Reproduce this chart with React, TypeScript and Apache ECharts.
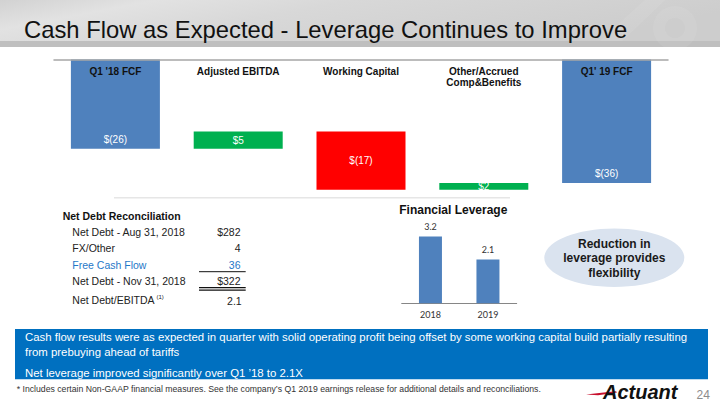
import React, { useEffect, useRef } from "react";
import * as echarts from "echarts";

const wfCategories = ["Q1 '18 FCF", "Adjusted EBITDA", "Working Capital", "Other/Accrued\nComp&Benefits", "Q1' 19 FCF"];
const wfValues = [-26, 5, -17, 2, -36];
const wfIsTotal = [true, false, false, false, true];

const levCategories = ["2018", "2019"];
const levValues = [3.2, 2.1];

const reconTitle = "Net Debt Reconciliation";
const reconLabels = ["Net Debt - Aug 31, 2018", "FX/Other", "Free Cash Flow", "Net Debt - Nov 31, 2018"];
const reconValues = ["$282", "4", "36", "$322"];
const ratioLabel = "Net Debt/EBITDA";
const ratioValue = "2.1";

const titleText = "Cash Flow as Expected - Leverage Continues to Improve";
const bannerLines = [
  "Cash flow results were as expected in quarter with solid operating profit being offset by some working capital build partially resulting",
  "from prebuying ahead of tariffs",
  "Net leverage improved significantly over Q1 \u201918 to 2.1X",
];
const footnote = "* Includes certain Non-GAAP financial measures. See the company\u2019s Q1 2019 earnings release for additional details and reconciliations.";
const calloutLines = ["Reduction in", "leverage provides", "flexibility"];

const FONT = "'Liberation Sans', Arial, sans-serif";

function fmtMoney(v: number) {
  return v < 0 ? `$(${-v})` : `$${v}`;
}

export default function App() {
  const ref = useRef<HTMLDivElement>(null);
  useEffect(() => {
    if (!ref.current) return;
    const chart = echarts.init(ref.current, undefined, { renderer: "svg" });

    const helper: number[] = [];
    const visible: any[] = [];
    let running = 0;
    wfValues.forEach((v, i) => {
      if (wfIsTotal[i]) {
        helper.push(0);
        visible.push({ value: v, itemStyle: { color: "#4F81BD" } });
        running = v;
      } else {
        const next = running + v;
        const hi = Math.max(running, next);
        const lo = Math.min(running, next);
        helper.push(hi);
        visible.push({ value: lo - hi, itemStyle: { color: v > 0 ? "#00B050" : "#FF0000" } });
        running = next;
      }
    });

    const reconRowsY = [231.7, 248.3, 264.5, 281];
    const graphics: any[] = [];
    // title band
    graphics.push({
      type: "rect",
      shape: { x: 0, y: 0, width: 720, height: 41 },
      style: {
        fill: {
          type: "linear", x: 0, y: 0, x2: 1, y2: 0.3,
          colorStops: [
            { offset: 0, color: "#d2d2d2" },
            { offset: 0.2, color: "#e2e2e2" },
            { offset: 0.45, color: "#d8d8d8" },
            { offset: 0.75, color: "#d2d2d2" },
            { offset: 1, color: "#cdcdcd" },
          ],
        },
      },
      silent: true,
    });
    graphics.push({ type: "rect", shape: { x: 0, y: 41, width: 720, height: 6 }, style: { fill: "#bfbfbf" }, silent: true });
    graphics.push({ type: "polygon", shape: { points: [[600, 41], [645, 0], [665, 0], [622, 41]] }, style: { fill: "rgba(255,255,255,0.08)" }, silent: true });
    graphics.push({ type: "ring", shape: { cx: 675, cy: 28, r: 22, r0: 10 }, style: { fill: "rgba(255,255,255,0.07)" }, silent: true });
    graphics.push({
      type: "text", x: 24, y: 29,
      style: { text: titleText, font: `23.8px ${FONT}`, fill: "#111", verticalAlign: "middle", textAlign: "left" },
    });

    // faint divider
    graphics.push({ type: "line", shape: { x1: 114, y1: 197.7, x2: 510, y2: 197.7 }, style: { stroke: "#e6e6e6", lineWidth: 1.5 } });

    // net debt table
    graphics.push({ type: "text", x: 62.7, y: 216, style: { text: reconTitle, font: `bold 10.5px ${FONT}`, fill: "#111", verticalAlign: "middle" } });
    reconLabels.forEach((l, i) => {
      const color = i === 2 ? "#1F78C8" : "#222";
      graphics.push({ type: "text", x: 72.3, y: reconRowsY[i], style: { text: l, font: `10.5px ${FONT}`, fill: color, verticalAlign: "middle" } });
      graphics.push({ type: "text", x: 240.5, y: reconRowsY[i], style: { text: reconValues[i], font: `10.5px ${FONT}`, fill: color, verticalAlign: "middle", textAlign: "right" } });
    });
    graphics.push({ type: "line", shape: { x1: 199, y1: 271.7, x2: 245.7, y2: 271.7 }, style: { stroke: "#111", lineWidth: 1 } });
    graphics.push({ type: "line", shape: { x1: 199, y1: 287.6, x2: 245.7, y2: 287.6 }, style: { stroke: "#111", lineWidth: 1.3 } });
    graphics.push({ type: "line", shape: { x1: 199, y1: 290.1, x2: 245.7, y2: 290.1 }, style: { stroke: "#111", lineWidth: 1.3 } });
    graphics.push({ type: "text", x: 72.3, y: 300, style: { text: ratioLabel, font: `10.5px ${FONT}`, fill: "#222", verticalAlign: "middle" } });
    graphics.push({ type: "text", x: 156.5, y: 296.5, style: { text: "(1)", font: `6px ${FONT}`, fill: "#222", verticalAlign: "middle" } });
    graphics.push({ type: "text", x: 241.7, y: 300.5, style: { text: ratioValue, font: `10.5px ${FONT}`, fill: "#222", verticalAlign: "middle", textAlign: "right" } });

    // leverage title
    graphics.push({ type: "text", x: 453.3, y: 209.5, style: { text: "Financial Leverage", font: `bold 12px ${FONT}`, fill: "#111", verticalAlign: "middle", textAlign: "center" } });

    // callout ellipse
    graphics.push({ type: "ellipse", shape: { cx: 614.3, cy: 257.7, rx: 70, ry: 29.2 }, style: { fill: "#DAE3EF" } });
    const calloutY = [244, 258.3, 272.7];
    calloutLines.forEach((t, i) => {
      graphics.push({ type: "text", x: 614.3, y: calloutY[i], style: { text: t, font: `bold 12px ${FONT}`, fill: "#1a1a1a", verticalAlign: "middle", textAlign: "center" } });
    });

    // banner
    graphics.push({ type: "rect", shape: { x: 15, y: 329, width: 693, height: 50.3 }, style: { fill: "#0070C0" } });
    const bannerY = [336.7, 351.7, 372.7];
    bannerLines.forEach((t, i) => {
      graphics.push({ type: "text", x: 25, y: bannerY[i], style: { text: t, font: `11.4px ${FONT}`, fill: "#ffffff", verticalAlign: "middle" } });
    });
    graphics.push({ type: "text", x: 16.7, y: 389.3, style: { text: footnote, font: `8.7px ${FONT}`, fill: "#333", verticalAlign: "middle" } });

    // logo
    graphics.push({ type: "polygon", shape: { points: [[586, 394.6], [606, 392.2], [616, 391.2], [617, 392.6], [598, 395.2]] }, style: { fill: "#C8102E" } });
    graphics.push({ type: "text", x: 603, y: 391.5, style: { text: "Actuant", font: `italic bold 20px ${FONT}`, fill: "#111", verticalAlign: "middle" } });
    graphics.push({ type: "text", x: 696.5, y: 395, style: { text: "24", font: `12px ${FONT}`, fill: "#8c8c8c", verticalAlign: "middle" } });

    chart.setOption({
      animation: false,
      textStyle: { fontFamily: FONT },
      grid: [
        { left: 54, top: 59.5, width: 614, height: 137.2 },
        { left: 401.7, top: 219.7, width: 115, height: 83.6 },
      ],
      xAxis: [
        {
          type: "category",
          gridIndex: 0,
          position: "top",
          z: 10,
          data: wfCategories,
          axisLine: { lineStyle: { color: "#A6A6A6", width: 1.5 } },
          axisTick: { inside: true, length: 3, lineStyle: { color: "#A6A6A6" } },
          axisLabel: {
            inside: true,
            margin: 6,
            verticalAlign: "top",
            fontSize: 10,
            fontWeight: "bold",
            color: "#111",
            lineHeight: 11,
            interval: 0,
          },
        },
        {
          type: "category",
          gridIndex: 1,
          data: levCategories,
          axisLine: { lineStyle: { color: "#868686", width: 1 } },
          axisTick: { length: 3, lineStyle: { color: "#868686" } },
          axisLabel: { margin: 7, fontSize: 9, color: "#333", fontFamily: "Lato, 'Open Sans', sans-serif" },
        },
      ],
      yAxis: [
        { type: "value", gridIndex: 0, min: -40, max: 0, show: false, splitLine: { show: false } },
        { type: "value", gridIndex: 1, min: 0, max: 4, show: false, splitLine: { show: false } },
      ],
      graphic: { elements: graphics },
      series: [
        {
          type: "bar",
          xAxisIndex: 0,
          yAxisIndex: 0,
          stack: "wf",
          barWidth: 89,
          silent: true,
          itemStyle: { color: "transparent" },
          data: helper,
        },
        {
          type: "bar",
          xAxisIndex: 0,
          yAxisIndex: 0,
          stack: "wf",
          barWidth: 89,
          data: visible.map((d, i) => ({
            ...d,
            label: {
              show: true,
              position: wfIsTotal[i] ? "insideBottom" : "inside",
              distance: 4,
              formatter: () => fmtMoney(wfValues[i]),
              color: "#ffffff",
              fontSize: 10,
              fontFamily: FONT,
            },
          })),
        },
        {
          type: "bar",
          xAxisIndex: 1,
          yAxisIndex: 1,
          barWidth: 23,
          itemStyle: { color: "#4F81BD" },
          label: {
            show: true,
            position: "top",
            distance: 5,
            fontSize: 9,
            color: "#333",
            fontFamily: "Lato, 'Open Sans', sans-serif",
          },
          data: levValues,
        },
      ],
    });
    return () => chart.dispose();
  }, []);
  return <div ref={ref} style={{ position: "fixed", left: 0, top: 0, width: 720, height: 405, background: "#fff" }} />;
}
